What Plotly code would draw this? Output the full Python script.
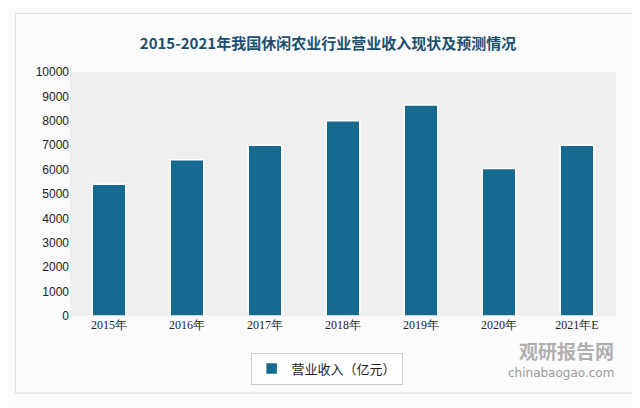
import plotly.graph_objects as go

categories = ["2015年", "2016年", "2017年", "2018年", "2019年", "2020年", "2021年E"]
revenue = [5400, 6400, 7000, 8000, 8650, 6050, 7000]
series_name = "营业收入（亿元）"
title = "2015-2021年我国休闲农业行业营业收入现状及预测情况"

fig = go.Figure()
fig.add_bar(x=categories, y=revenue, name=series_name, width=0.43,
            marker=dict(color="#16698f", line=dict(color="white", width=1.5)))
font = "Noto Sans CJK SC"
fig.update_layout(
    width=640, height=408, margin=dict(l=62, r=32, t=64, b=100),
    paper_bgcolor="#fbfbfb", plot_bgcolor="#efefef",
    font=dict(family=font, color="#222", size=12),
    title=dict(text="<b>"+title+"</b>", x=0.5, xanchor="center", y=0.925,
               font=dict(size=15, color="#1c4f6e")),
    xaxis=dict(showline=False, ticks="", tickfont=dict(size=12, family="Liberation Serif")),
    yaxis=dict(range=[0, 10000], dtick=1000, showgrid=False, zeroline=False,
               tickformat="d", tickfont=dict(size=12, family="Liberation Sans"), ticklen=0),
    showlegend=True,
    legend=dict(orientation="h", x=0.47, y=-0.15, xanchor="center", yanchor="top",
                bordercolor="#cccccc", borderwidth=1, bgcolor="white",
                font=dict(size=13)),
    bargap=0.5,
    shapes=[dict(type="rect", xref="paper", yref="paper", x0=-0.1, x1=1.04, y0=-0.316, y1=1.24,
                 line=dict(color="#dddddd", width=1), layer="below")],
    annotations=[
        dict(text="<b>观研报告网</b>", xref="paper", yref="paper", x=1.0, y=-0.14,
             xanchor="right", yanchor="middle", showarrow=False,
             font=dict(size=19, color="#b0b0b0")),
        dict(text="chinabaogao.com", xref="paper", yref="paper", x=1.0, y=-0.235,
             xanchor="right", yanchor="middle", showarrow=False,
             font=dict(size=12, color="#9a9a9a", family="DejaVu Sans")),
    ],
)
fig.write_html("out.html")
